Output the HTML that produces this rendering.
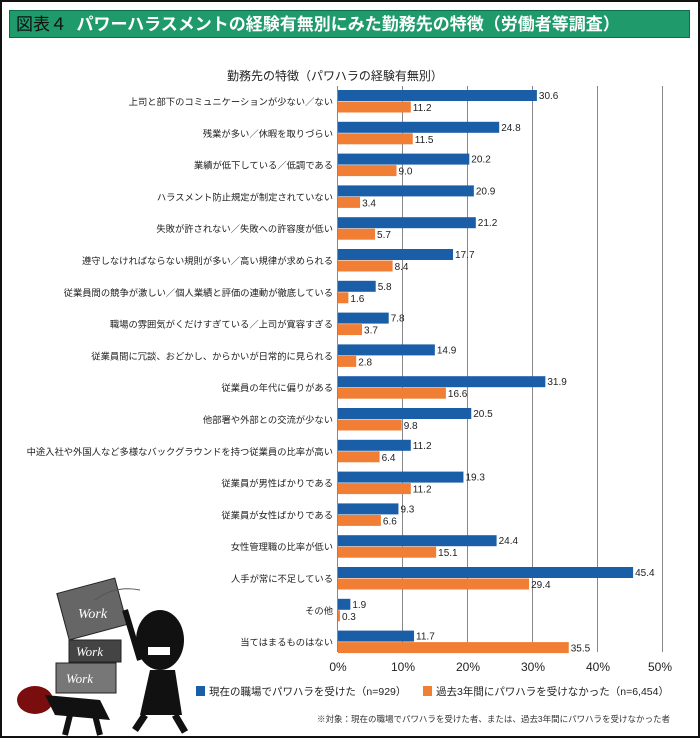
<!DOCTYPE html>
<html><head><meta charset="utf-8"><style>
body{margin:0;width:700px;height:738px;background:#fff;font-family:"Liberation Sans","Noto Sans CJK JP",sans-serif;overflow:hidden}
.frame{position:absolute;left:0;top:0;width:696px;height:734px;border:2px solid #111}
.hdr{position:absolute;left:9px;top:10px;width:681px;height:28px;background:#1f9a6a;border:1px solid #0d6e4a;color:#fff;font-weight:bold;font-size:17px;line-height:28px;padding-left:6px;box-sizing:border-box;white-space:nowrap}
</style></head><body>
<div class="frame"></div>
<div class="hdr"><span style="color:#111;font-weight:normal">図表４</span>&nbsp; パワーハラスメントの経験有無別にみた勤務先の特徴（労働者等調査）</div>
<svg width="700" height="738" style="position:absolute;left:0;top:0" font-family="Liberation Sans, Noto Sans CJK JP, sans-serif">
<text x="335" y="80" font-size="12" text-anchor="middle" fill="#222">勤務先の特徴（パワハラの経験有無別）</text>
<g stroke="#888" stroke-width="1">
<line x1="337.5" y1="86" x2="337.5" y2="652"/><line x1="402.5" y1="86" x2="402.5" y2="652"/><line x1="467.5" y1="86" x2="467.5" y2="652"/><line x1="532.5" y1="86" x2="532.5" y2="652"/><line x1="597.5" y1="86" x2="597.5" y2="652"/><line x1="662.5" y1="86" x2="662.5" y2="652"/>
</g>
<g font-size="12" fill="#222" text-anchor="middle">
<text x="338" y="671">0%</text><text x="403" y="671">10%</text><text x="468" y="671">20%</text><text x="533" y="671">30%</text><text x="598" y="671">40%</text><text x="660" y="671">50%</text>
</g>
<g id="bars" font-size="10" fill="#222"></g>
<rect x="196" y="686" width="9" height="10" fill="#1a5ea8"/>
<text x="209" y="695" font-size="10.5" fill="#222">現在の職場でパワハラを受けた（n=929）</text>
<rect x="423" y="686" width="9" height="10" fill="#f07f35"/>
<text x="436" y="695" font-size="10.5" fill="#222">過去3年間にパワハラを受けなかった（n=6,454）</text>
<text x="670" y="722" font-size="8.5" fill="#333" text-anchor="end">※対象：現在の職場でパワハラを受けた者、または、過去3年間にパワハラを受けなかった者</text>
<g>
<rect x="62" y="585" width="60" height="48" fill="#666" stroke="#222" transform="rotate(-15 92 609)"/>
<text x="78" y="618" fill="#fff" font-size="14" font-family="Liberation Serif, serif" font-style="italic">Work</text>
<rect x="69" y="640" width="52" height="22" fill="#444" stroke="#222"/>
<text x="76" y="656" fill="#fff" font-size="13" font-style="italic" font-family="Liberation Serif, serif">Work</text>
<rect x="56" y="663" width="60" height="30" fill="#777" stroke="#222"/>
<text x="66" y="683" fill="#fff" font-size="13" font-style="italic" font-family="Liberation Serif, serif">Work</text>
<ellipse cx="160" cy="640" rx="24" ry="30" fill="#111"/>
<rect x="148" y="647" width="22" height="8" fill="#fff"/>
<path d="M150 670 L175 670 L182 715 L140 715 Z" fill="#111"/>
<path d="M125 610 L140 660" stroke="#111" stroke-width="6"/>
<path d="M145 715 L135 730 M175 715 L185 732" stroke="#111" stroke-width="7"/>
<ellipse cx="35" cy="700" rx="18" ry="14" fill="#7a0d0d"/>
<path d="M45 695 L100 700 L110 720 L55 715 Z" fill="#111"/>
<path d="M70 715 L65 735 M95 715 L100 735" stroke="#111" stroke-width="6"/>
<path d="M95 600 Q115 585 140 590" stroke="#555" fill="none"/>
</g>
</svg>
<script>
var d=[["上司と部下のコミュニケーションが少ない／ない",30.6,11.2],["残業が多い／休暇を取りづらい",24.8,11.5],["業績が低下している／低調である",20.2,9.0],["ハラスメント防止規定が制定されていない",20.9,3.4],["失敗が許されない／失敗への許容度が低い",21.2,5.7],["遵守しなければならない規則が多い／高い規律が求められる",17.7,8.4],["従業員間の競争が激しい／個人業績と評価の連動が徹底している",5.8,1.6],["職場の雰囲気がくだけすぎている／上司が寛容すぎる",7.8,3.7],["従業員間に冗談、おどかし、からかいが日常的に見られる",14.9,2.8],["従業員の年代に偏りがある",31.9,16.6],["他部署や外部との交流が少ない",20.5,9.8],["中途入社や外国人など多様なバックグラウンドを持つ従業員の比率が高い",11.2,6.4],["従業員が男性ばかりである",19.3,11.2],["従業員が女性ばかりである",9.3,6.6],["女性管理職の比率が低い",24.4,15.1],["人手が常に不足している",45.4,29.4],["その他",1.9,0.3],["当てはまるものはない",11.7,35.5]];
var s="",k=6.5;
d.forEach(function(r,i){var y=90+i*31.8;
s+='<text x="333" y="'+(y+15)+'" text-anchor="end" font-size="9.3">'+r[0]+'</text>';
s+='<rect x="338" y="'+y+'" width="'+(r[1]*k)+'" height="11" fill="#1a5ea8"/>';
s+='<rect x="338" y="'+(y+11.5)+'" width="'+(r[2]*k)+'" height="11" fill="#f07f35"/>';
s+='<text x="'+(340+r[1]*k)+'" y="'+(y+9)+'">'+r[1].toFixed(1)+'</text>';
s+='<text x="'+(340+r[2]*k)+'" y="'+(y+21)+'">'+r[2].toFixed(1)+'</text>';});
document.getElementById("bars").innerHTML=s;
</script>
</body></html>
